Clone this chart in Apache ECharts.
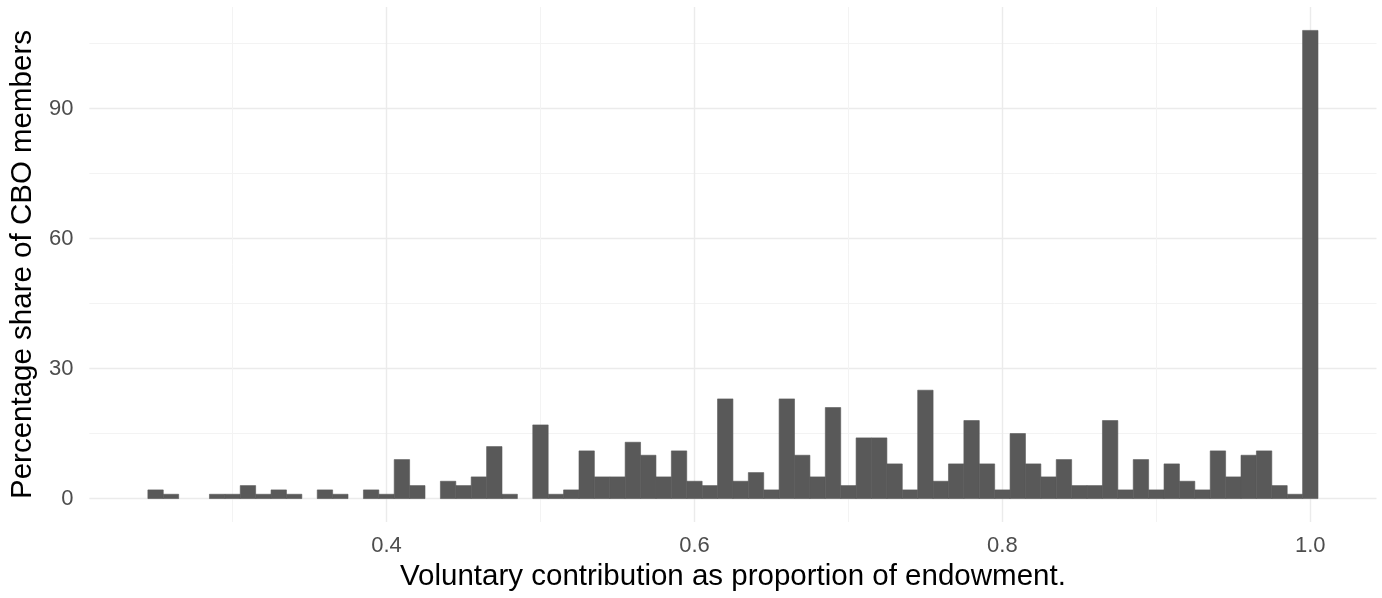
<!DOCTYPE html>
<html>
<head>
<meta charset="utf-8">
<script src="https://cdn.jsdelivr.net/npm/echarts@6/dist/echarts.min.js"></script>
<style>
html,body{margin:0;padding:0;background:#fff;}
#chart{width:1382px;height:598px;}
</style>
</head>
<body>
<div id="chart"></div>
<script>
// Bin centres (contribution as proportion of endowment), bin width 0.01
const binCenters = [0.25,0.26,0.27,0.28,0.29,0.30,0.31,0.32,0.33,0.34,0.35,0.36,0.37,0.38,0.39,
  0.40,0.41,0.42,0.43,0.44,0.45,0.46,0.47,0.48,0.49,0.50,0.51,0.52,0.53,0.54,0.55,0.56,0.57,0.58,0.59,
  0.60,0.61,0.62,0.63,0.64,0.65,0.66,0.67,0.68,0.69,0.70,0.71,0.72,0.73,0.74,0.75,0.76,0.77,0.78,0.79,
  0.80,0.81,0.82,0.83,0.84,0.85,0.86,0.87,0.88,0.89,0.90,0.91,0.92,0.93,0.94,0.95,0.96,0.97,0.98,0.99,1.00];
// Percentage share of CBO members per bin
const shareValues = [2,1,0,0,1,1,3,1,2,1,0,2,1,0,2,
  1,9,3,0,4,3,5,12,1,0,17,1,2,11,5,5,13,10,5,11,
  4,3,23,4,6,2,23,10,5,21,3,14,14,8,2,25,4,8,18,8,
  2,15,8,5,9,3,3,18,2,9,2,8,4,2,11,5,10,11,3,1,108];
const binWidth = 0.01;
const xTickLabels = [0.4, 0.6, 0.8, 1.0];
const yTickLabels = [0, 30, 60, 90];
const xRange = [0.207, 1.043];
const yRange = [-5.4, 113.4];

const data = binCenters.map((c, i) => [c, shareValues[i]]);

const chart = echarts.init(document.getElementById('chart'), null, {renderer: 'canvas'});
const FONT = 'Liberation Sans, Arial, sans-serif';
chart.setOption({
  animation: false,
  backgroundColor: '#ffffff',
  grid: {left: 83.3, right: 5.5, top: 7, bottom: 76, containLabel: false},
  xAxis: {
    type: 'value',
    min: xRange[0], max: xRange[1],
    splitNumber: 5,
    axisLine: {show: false},
    axisTick: {show: false, customValues: xTickLabels},
    axisLabel: {
      customValues: xTickLabels,
      color: '#4D4D4D', fontSize: 22, fontFamily: FONT, margin: 13,
      formatter: v => v.toFixed(1)
    },
    splitLine: {show: true, lineStyle: {color: '#EBEBEB', width: 1.4}},
    minorTick: {show: false, splitNumber: 2},
    minorSplitLine: {show: true, lineStyle: {color: '#F3F3F3', width: 1}},
    name: 'Voluntary contribution as proportion of endowment.',
    nameLocation: 'middle', nameGap: 40,
    nameTextStyle: {color: '#000', fontSize: 29.5, fontFamily: FONT}
  },
  yAxis: {
    type: 'value',
    min: yRange[0], max: yRange[1],
    splitNumber: 4,
    axisLine: {show: false},
    axisTick: {show: false, customValues: yTickLabels},
    axisLabel: {
      customValues: yTickLabels,
      color: '#4D4D4D', fontSize: 22, fontFamily: FONT, margin: 16
    },
    splitLine: {show: true, lineStyle: {color: '#EBEBEB', width: 1.4}},
    minorTick: {show: false, splitNumber: 2},
    minorSplitLine: {show: true, lineStyle: {color: '#F3F3F3', width: 1}},
    name: 'Percentage share of CBO members',
    nameLocation: 'middle', nameRotate: 90, nameGap: 44,
    nameTextStyle: {color: '#000', fontSize: 29.5, fontFamily: FONT}
  },
  series: [{
    type: 'custom',
    data: data,
    clip: true,
    renderItem: function (params, api) {
      const c = api.value(0), v = api.value(1);
      if (!v) return null;
      const p0 = api.coord([c - binWidth / 2, v]);
      const p1 = api.coord([c + binWidth / 2, 0]);
      return {
        type: 'rect',
        shape: {x: p0[0], y: p0[1], width: p1[0] - p0[0], height: p1[1] - p0[1]},
        style: {fill: '#595959', stroke: '#595959', lineWidth: 0.6}
      };
    }
  }]
});
</script>
</body>
</html>
